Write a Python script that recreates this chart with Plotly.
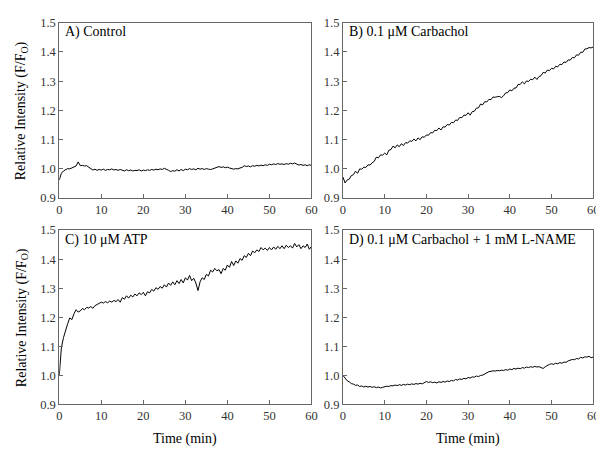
import plotly.graph_objects as go

# ---------------- data (0.5-min sampling) ----------------
time_min = [i * 0.5 for i in range(121)]

control = [
    0.962, 0.985, 0.993, 0.998, 1.001, 1.000, 1.004, 1.006, 1.010, 1.024,
    1.011, 1.012, 1.010, 1.011, 1.006, 0.999, 0.996, 0.999, 0.995, 0.998,
    0.996, 0.999, 0.995, 0.998, 0.997, 1.000, 0.996, 0.998, 0.995, 0.998,
    0.996, 0.993, 0.997, 0.994, 0.996, 0.993, 0.995, 0.994, 0.997, 0.993,
    0.996, 0.994, 0.997, 0.995, 0.998, 0.996, 0.999, 0.997, 1.000, 0.998,
    1.002, 0.997, 0.995, 0.991, 0.994, 0.992, 0.997, 0.993, 0.998, 0.994,
    0.999, 0.997, 1.001, 0.998, 1.000, 0.997, 1.002, 0.999, 1.001, 0.998,
    1.001, 0.999, 0.998, 1.000, 1.003, 1.006, 1.008, 1.005, 1.007, 1.004,
    1.006, 1.003, 1.002, 0.999, 1.001, 1.000, 1.003, 1.005, 1.011, 1.008,
    1.010, 1.007, 1.011, 1.009, 1.012, 1.010, 1.013, 1.011, 1.014, 1.012,
    1.016, 1.014, 1.017, 1.015, 1.018, 1.016, 1.017, 1.015, 1.018, 1.016,
    1.019, 1.017, 1.020, 1.016, 1.013, 1.015, 1.012, 1.014, 1.011, 1.014,
    1.012,
]

carbachol = [
    0.972, 0.952, 0.962, 0.965, 0.977, 0.980, 0.992, 0.985, 1.000, 0.999,
    1.006, 1.005, 1.014, 1.013, 1.021, 1.026, 1.040, 1.038, 1.048, 1.047,
    1.054, 1.048, 1.064, 1.066, 1.078, 1.072, 1.082, 1.076, 1.086, 1.080,
    1.090, 1.088, 1.096, 1.094, 1.102, 1.096, 1.106, 1.100, 1.110, 1.108,
    1.116, 1.115, 1.124, 1.123, 1.132, 1.131, 1.140, 1.133, 1.144, 1.143,
    1.152, 1.150, 1.159, 1.158, 1.167, 1.166, 1.176, 1.175, 1.184, 1.183,
    1.192, 1.184, 1.196, 1.197, 1.208, 1.209, 1.222, 1.219, 1.230, 1.229,
    1.238, 1.237, 1.246, 1.245, 1.247, 1.248, 1.244, 1.250, 1.260, 1.261,
    1.270, 1.267, 1.276, 1.277, 1.289, 1.289, 1.298, 1.291, 1.301, 1.299,
    1.307, 1.305, 1.314, 1.306, 1.316, 1.319, 1.330, 1.328, 1.338, 1.336,
    1.344, 1.342, 1.351, 1.349, 1.358, 1.357, 1.366, 1.364, 1.373, 1.372,
    1.381, 1.380, 1.390, 1.389, 1.399, 1.399, 1.410, 1.411, 1.415, 1.414,
    1.417,
]

atp = [
    1.000, 1.095, 1.130, 1.158, 1.178, 1.198, 1.192, 1.212, 1.226, 1.218,
    1.222, 1.230, 1.226, 1.234, 1.232, 1.237, 1.231, 1.240, 1.244, 1.248,
    1.252, 1.249, 1.254, 1.250, 1.256, 1.252, 1.258, 1.254, 1.261, 1.252,
    1.268, 1.262, 1.274, 1.266, 1.276, 1.270, 1.280, 1.274, 1.284, 1.278,
    1.286, 1.274, 1.288, 1.284, 1.296, 1.290, 1.302, 1.296, 1.306, 1.300,
    1.312, 1.304, 1.318, 1.310, 1.322, 1.312, 1.326, 1.316, 1.330, 1.318,
    1.336, 1.328, 1.344, 1.326, 1.334, 1.318, 1.292, 1.322, 1.336, 1.330,
    1.348, 1.342, 1.362, 1.356, 1.368, 1.360, 1.364, 1.350, 1.368, 1.362,
    1.380, 1.372, 1.392, 1.378, 1.394, 1.386, 1.402, 1.396, 1.412, 1.406,
    1.420, 1.412, 1.428, 1.422, 1.432, 1.426, 1.440, 1.432, 1.438, 1.430,
    1.440, 1.432, 1.442, 1.434, 1.444, 1.436, 1.446, 1.436, 1.448, 1.440,
    1.446, 1.438, 1.454, 1.442, 1.450, 1.436, 1.446, 1.440, 1.452, 1.434,
    1.444,
]

carbachol_lname = [
    1.000, 0.992, 0.982, 0.978, 0.972, 0.970, 0.966, 0.967, 0.962, 0.964,
    0.960, 0.963, 0.960, 0.962, 0.959, 0.961, 0.958, 0.960, 0.957, 0.959,
    0.961, 0.963, 0.962, 0.965, 0.964, 0.967, 0.965, 0.968, 0.966, 0.969,
    0.967, 0.970, 0.968, 0.971, 0.969, 0.972, 0.970, 0.973, 0.971, 0.974,
    0.979, 0.976, 0.978, 0.975, 0.977, 0.974, 0.978, 0.976, 0.979, 0.977,
    0.981, 0.979, 0.983, 0.981, 0.986, 0.984, 0.988, 0.986, 0.990, 0.988,
    0.993, 0.991, 0.995, 0.994, 0.998, 0.996, 1.000, 1.001, 1.005, 1.008,
    1.013, 1.014, 1.016, 1.015, 1.017, 1.016, 1.018, 1.017, 1.020, 1.018,
    1.022, 1.020, 1.024, 1.022, 1.025, 1.023, 1.027, 1.025, 1.029, 1.027,
    1.030, 1.028, 1.031, 1.029, 1.030, 1.027, 1.024, 1.030, 1.035, 1.038,
    1.040, 1.038, 1.042, 1.040, 1.044, 1.042, 1.046, 1.045, 1.050, 1.052,
    1.055, 1.054, 1.058, 1.057, 1.062, 1.060, 1.064, 1.063, 1.066, 1.061,
    1.063,
]

panel_labels = ["A) Control", "B) 0.1 \u03bcM Carbachol", "C) 10 \u03bcM ATP",
                "D) 0.1 \u03bcM Carbachol + 1 mM L-NAME"]
x_ticks = [0, 10, 20, 30, 40, 50, 60]
y_ticks = [0.9, 1.0, 1.1, 1.2, 1.3, 1.4, 1.5]
y_tick_text = ["0.9", "1.0", "1.1", "1.2", "1.3", "1.4", "1.5"]
x_title = "Time (min)"
y_title = "Relative Intensity (F/F<sub>O</sub>)"

# ---------------- layout ----------------
W, H = 604, 450
FONT = "Liberation Serif"
AX_COL = "#666666"

def px_x(p):
    return p / W

def px_y(p):
    return 1 - p / H

# pixel boxes (left, right, top, bottom)
boxes = [(49, 305, 8, 189), (337, 591, 8, 189), (49, 305, 222, 402), (337, 591, 222, 402)]
series = [control, carbachol, atp, carbachol_lname]

fig = go.Figure()
layout_axes = {}
annotations = []
for i, (box, ys, lab) in enumerate(zip(boxes, series, panel_labels)):
    n = "" if i == 0 else str(i + 1)
    l, r, t, b = box
    fig.add_trace(go.Scatter(x=time_min, y=ys, mode="lines",
                             line=dict(color="black", width=1),
                             xaxis="x" + n, yaxis="y" + n, showlegend=False,
                             hoverinfo="skip"))
    common = dict(showline=True, mirror=True, linecolor=AX_COL, linewidth=1,
                  ticks="inside", ticklen=4, tickcolor=AX_COL, showgrid=False,
                  zeroline=False, ticklabeloverflow="allow",
                  tickfont=dict(family=FONT, size=12.5, color="#333"))
    layout_axes["xaxis" + n] = dict(common, domain=[px_x(l), px_x(r)], range=[0, 60],
                                    tickvals=x_ticks, anchor="y" + n)
    layout_axes["yaxis" + n] = dict(common, domain=[px_y(b), px_y(t)], range=[0.9, 1.5],
                                    tickvals=y_ticks, ticktext=y_tick_text, anchor="x" + n)
    annotations.append(dict(text=lab, x=px_x(l + 4), y=px_y(t + 10), xref="paper",
                            yref="paper", xanchor="left", yanchor="middle",
                            showarrow=False, font=dict(family=FONT, size=14, color="black")))

for (l, r, t, b) in [boxes[0], boxes[2]]:
    annotations.append(dict(text=y_title, x=px_x(11), y=px_y((t + b) / 2), xref="paper",
                            yref="paper", xanchor="center", yanchor="middle", textangle=-90,
                            showarrow=False, font=dict(family=FONT, size=14, color="black")))
for (l, r, t, b) in [boxes[2], boxes[3]]:
    annotations.append(dict(text=x_title, x=px_x((l + r) / 2), y=px_y(438), xref="paper",
                            yref="paper", xanchor="center", yanchor="middle",
                            showarrow=False, font=dict(family=FONT, size=14, color="black")))

fig.update_layout(width=W, height=H, margin=dict(l=0, r=0, t=0, b=0),
                  paper_bgcolor="white", plot_bgcolor="white",
                  font=dict(family=FONT, color="black"),
                  annotations=annotations, **layout_axes)

fig.write_html("out.html")
